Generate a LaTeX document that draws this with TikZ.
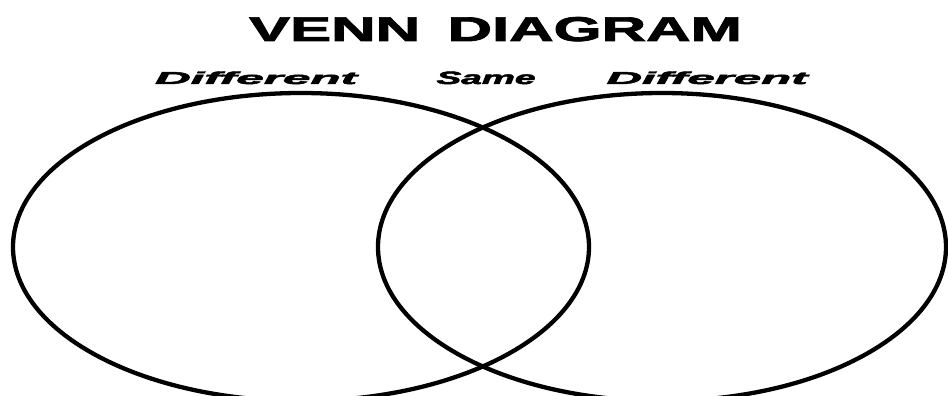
\documentclass[tikz,border=0pt]{standalone}
\usepackage{fontspec}
\setmainfont{Liberation Sans}
\newfontfamily\heavyfont{Liberation Sans Bold}[FakeBold=2]
\newfontfamily\heavyital{Liberation Sans Bold Italic}[FakeBold=2.5]
\usepackage{graphicx}
\begin{document}
\begin{tikzpicture}[x=1pt,y=-1pt]
\tikzset{
  venn/.style={draw=black,line width=4.3pt},
  lbl/.style={inner sep=0pt,anchor=base,text=black}
}
\useasboundingbox[fill=white] (0,0) rectangle (948,396);
\begin{scope}
\clip (0,0) rectangle (948,396);
\draw[venn] (301,247) ellipse [x radius=288, y radius=154];
\draw[venn] (662,247) ellipse [x radius=284, y radius=154];
\end{scope}
\node[lbl] (title) at (495.5,41) {\resizebox{493pt}{24pt}{\heavyfont VENN\, DIAGRAM}};
\node[lbl] (diffL) at (256,84) {\resizebox{202pt}{12.5pt}{\heavyital Different}};
\node[lbl] (same) at (486,84) {\resizebox{99pt}{12.5pt}{\heavyital Same}};
\node[lbl] (diffR) at (707,84) {\resizebox{201pt}{12.5pt}{\heavyital Different}};
\end{tikzpicture}
\end{document}
